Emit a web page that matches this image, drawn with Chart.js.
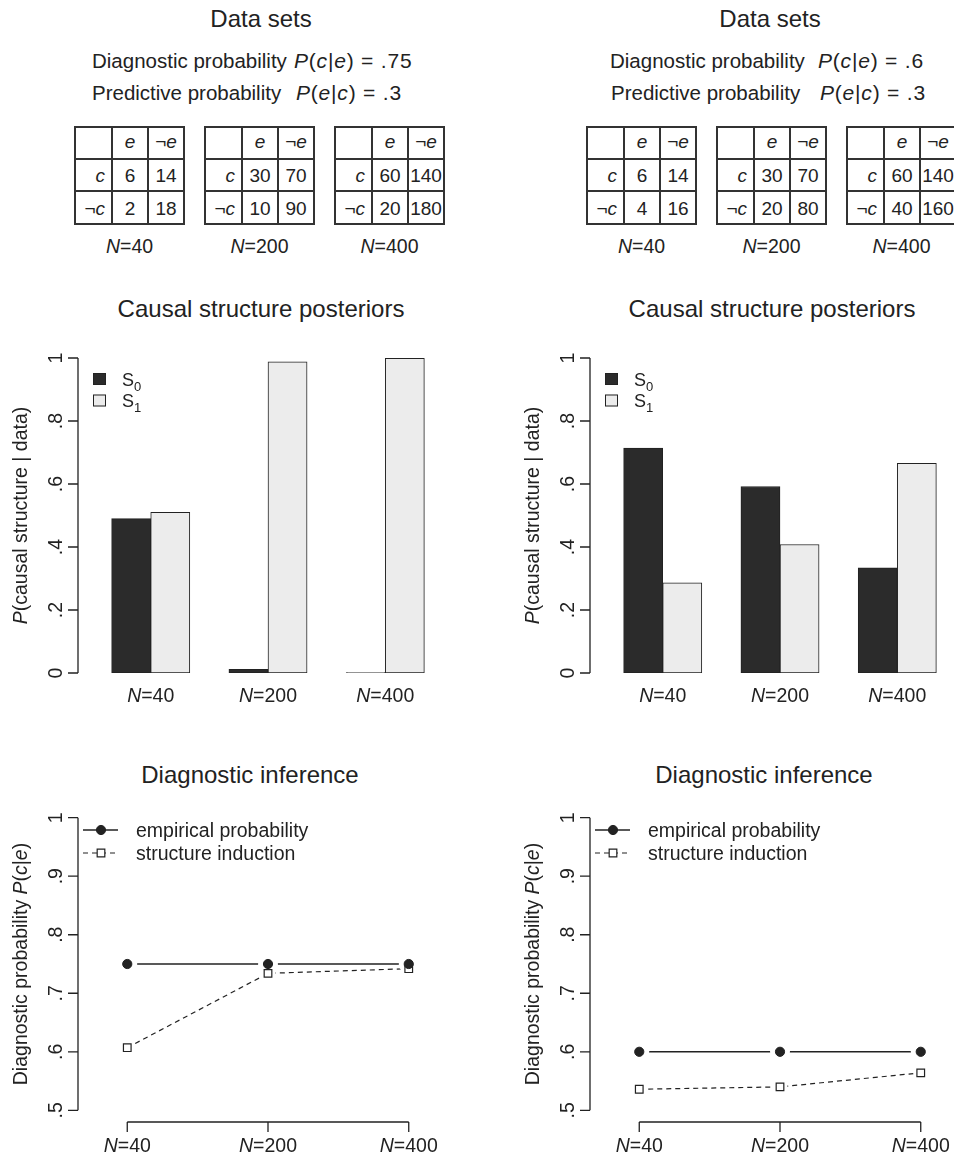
<!DOCTYPE html>
<html>
<head>
<meta charset="utf-8">
<title>Structure induction and diagnostic inference</title>
<script src="https://cdn.jsdelivr.net/npm/chart.js@4.4.1/dist/chart.umd.min.js"></script>
<style>
  html, body { margin: 0; padding: 0; background: #fff; overflow: hidden; }
  #page { position: relative; width: 954px; height: 1156px; overflow: hidden; }
  #page canvas { position: absolute; }
  #labels { position: absolute; left: 0; top: 0; }
  #labels text { font-family: "Liberation Sans", Arial, sans-serif; fill: #222; white-space: pre; }
</style>
</head>
<body>
<div id="page">
  <svg id="labels" width="954" height="1156" xmlns="http://www.w3.org/2000/svg"></svg>
  <canvas id="barLeft" width="480" height="430" style="left:0px;top:290px"></canvas>
  <canvas id="barRight" width="480" height="430" style="left:512px;top:290px"></canvas>
  <canvas id="lineLeft" width="480" height="416" style="left:0px;top:740px"></canvas>
  <canvas id="lineRight" width="480" height="416" style="left:512px;top:740px"></canvas>
</div>
<script>
// ---- data ----
const sampleLabels = ['N=40', 'N=200', 'N=400'];
const structureNames = ['S0', 'S1'];
const inferenceNames = ['empirical probability', 'structure induction'];

// contingency tables [c row, ¬c row] x [e, ¬e] for each sample size
const tablesLeft = [[[6, 14], [2, 18]], [[30, 70], [10, 90]], [[60, 140], [20, 180]]];
const tablesRight = [[[6, 14], [4, 16]], [[30, 70], [20, 80]], [[60, 140], [40, 160]]];
const diagnosticLeft = '.75', predictiveLeft = '.3';
const diagnosticRight = '.6', predictiveRight = '.3';

// posterior probability of each causal structure
const s0Left = [0.49, 0.012, 0.001];
const s1Left = [0.51, 0.988, 0.999];
const s0Right = [0.714, 0.592, 0.334];
const s1Right = [0.286, 0.408, 0.666];

// diagnostic probability P(c|e)
const empiricalLeft = [0.75, 0.75, 0.75];
const inductionLeft = [0.607, 0.734, 0.742];
const empiricalRight = [0.6, 0.6, 0.6];
const inductionRight = [0.536, 0.540, 0.564];

const barTicks = [0, 0.2, 0.4, 0.6, 0.8, 1];
const barTickLabels = ['0', '.2', '.4', '.6', '.8', '1'];
const lineTicks = [0.5, 0.6, 0.7, 0.8, 0.9, 1];
const lineTickLabels = ['.5', '.6', '.7', '.8', '.9', '1'];

// ---- style ----
const INK = '#222';
const DARK = '#2b2b2b';
const LIGHT = '#ececec';
const FONT = '"Liberation Sans", Arial, sans-serif';
const FS = 19.5;
const TICK = 10;
const fontStr = (size, italic) => (italic ? 'italic ' : '') + size + 'px ' + FONT;

// draw a run of text pieces (some italic / subscript) starting or centred at x
function drawParts(ctx, parts, x, y, size, align) {
  const widths = parts.map(p => { ctx.font = fontStr(p.size || size, p.it); return ctx.measureText(p.t).width; });
  const total = widths.reduce((a, b) => a + b, 0);
  let cx = align === 'center' ? x - total / 2 : x;
  parts.forEach((p, i) => {
    ctx.font = fontStr(p.size || size, p.it);
    ctx.fillText(p.t, cx, y + (p.dy || 0));
    cx += widths[i];
  });
}
const subscriptParts = s => [{ t: s[0] }, { t: s.slice(1), size: 13, dy: 5 }];
const sampleParts = s => [{ t: s[0], it: true }, { t: s.slice(1) }];

// R-like axes: axis line only across the tick range, outward ticks, rotated y labels
const rAxes = {
  id: 'rAxes',
  afterDraw(chart, args, o) {
    const { ctx, chartArea: a } = chart;
    const xs = chart.scales.x, ys = chart.scales.y;
    ctx.save();
    ctx.strokeStyle = INK;
    ctx.fillStyle = INK;
    ctx.lineWidth = 1.3;
    ctx.textAlign = 'left';
    ctx.textBaseline = 'alphabetic';

    const yPix = o.yTicks.map(v => ys.getPixelForValue(v));
    ctx.beginPath();
    ctx.moveTo(a.left, yPix[0]);
    ctx.lineTo(a.left, yPix[yPix.length - 1]);
    yPix.forEach(p => { ctx.moveTo(a.left, p); ctx.lineTo(a.left - TICK, p); });
    ctx.stroke();
    yPix.forEach((p, i) => {
      ctx.save();
      ctx.translate(a.left - 16, p);
      ctx.rotate(-Math.PI / 2);
      drawParts(ctx, [{ t: o.yLabels[i] }], 0, 0, FS, 'center');
      ctx.restore();
    });
    ctx.save();
    ctx.translate(a.left - 51, (yPix[0] + yPix[yPix.length - 1]) / 2);
    ctx.rotate(-Math.PI / 2);
    drawParts(ctx, o.yTitle, 0, 0, FS, 'center');
    ctx.restore();

    const xPix = o.xTicks.map(v => xs.getPixelForValue(v));
    if (o.xLine) {
      ctx.beginPath();
      ctx.moveTo(xPix[0], a.bottom);
      ctx.lineTo(xPix[xPix.length - 1], a.bottom);
      xPix.forEach(p => { ctx.moveTo(p, a.bottom); ctx.lineTo(p, a.bottom + TICK); });
      ctx.stroke();
    }
    xPix.forEach((p, i) => drawParts(ctx, sampleParts(o.xLabels[i]), p, a.bottom + o.xLabelDrop, FS, 'center'));

    if (o.legend === 'bar') {
      chart.data.datasets.forEach((ds, i) => {
        const cy = a.top + 21 + i * 21.5;
        ctx.fillStyle = ds.backgroundColor;
        ctx.fillRect(a.left + 15, cy - 6, 13, 12);
        ctx.lineWidth = 1;
        ctx.strokeRect(a.left + 15.5, cy - 5.5, 12, 11);
        ctx.fillStyle = INK;
        drawParts(ctx, subscriptParts(ds.label), a.left + 44, cy + 6.5, 18, 'left');
      });
    } else if (o.legend === 'line') {
      [0, 1].forEach(i => {
        const pt = chart.data.datasets[i];
        const ln = chart.data.datasets[i + 4];
        const cy = a.top + 24 + i * 23;
        ctx.beginPath();
        ctx.setLineDash(ln.borderDash || []);
        ctx.lineWidth = ln.borderWidth;
        ctx.strokeStyle = ln.borderColor;
        ctx.moveTo(a.left + 5, cy);
        ctx.lineTo(a.left + 40, cy);
        ctx.stroke();
        ctx.setLineDash([]);
        ctx.fillStyle = pt.pointBackgroundColor;
        ctx.strokeStyle = pt.pointBorderColor;
        ctx.lineWidth = pt.pointBorderWidth;
        ctx.beginPath();
        if (pt.pointStyle === 'rect') {
          const h = pt.pointRadius * Math.SQRT1_2;
          ctx.rect(a.left + 23 - h, cy - h, 2 * h, 2 * h);
        } else {
          ctx.arc(a.left + 23, cy, pt.pointRadius, 0, Math.PI * 2);
        }
        ctx.fill();
        ctx.stroke();
        ctx.fillStyle = INK;
        drawParts(ctx, [{ t: pt.label }], a.left + 58, cy + 7, FS, 'left');
      });
    }
    ctx.restore();
  }
};

const barTitle = [{ t: 'P', it: true }, { t: '(causal structure | data)' }];
const lineTitle = [{ t: 'Diagnostic probability ' }, { t: 'P', it: true }, { t: '(' }, { t: 'c', it: true }, { t: '|' }, { t: 'e', it: true }, { t: ')' }];

// bars: each sample size is a group of two adjacent unit-wide bars, one unit apart
function makeBarChart(id, s0, s1) {
  const bar = (label, values, offset, fill) => ({
    label,
    data: values.map((v, i) => ({ x: 3 * i + offset, y: v })),
    backgroundColor: fill,
    borderColor: INK,
    borderWidth: 1,
    borderSkipped: false,
    grouped: false,
    barPercentage: 1,
    categoryPercentage: 1
  });
  return new Chart(document.getElementById(id), {
    type: 'bar',
    data: { datasets: [bar(structureNames[0], s0, 0.5, DARK), bar(structureNames[1], s1, 1.5, LIGHT)] },
    options: {
      responsive: false,
      animation: false,
      events: [],
      layout: { padding: { left: 78, right: 22, top: 68, bottom: 47 } },
      scales: {
        x: { type: 'linear', min: -0.32, max: 8.32, display: false, ticks: { stepSize: 1, includeBounds: false } },
        y: { min: 0, max: 1, display: false }
      },
      plugins: {
        legend: { display: false },
        tooltip: { enabled: false },
        rAxes: {
          yTicks: barTicks, yLabels: barTickLabels, yTitle: barTitle,
          xTicks: sampleLabels.map((_, i) => 3 * i + 1), xLabels: sampleLabels,
          xLine: false, xLabelDrop: 29, legend: 'bar'
        }
      }
    },
    plugins: [rAxes]
  });
}

// lines with open gaps around the markers: white halos sit between lines and markers
function makeLineChart(id, emp, ind) {
  const pts = arr => arr.map((v, i) => ({ x: i + 1, y: v }));
  const datasets = [
    { label: inferenceNames[0], data: pts(emp), showLine: false, pointStyle: 'circle', pointRadius: 4.6,
      pointBackgroundColor: INK, pointBorderColor: INK, pointBorderWidth: 1, order: 0 },
    { label: inferenceNames[1], data: pts(ind), showLine: false, pointStyle: 'rect', pointRadius: 5.4,
      pointBackgroundColor: '#fff', pointBorderColor: INK, pointBorderWidth: 1.2, order: 0 },
    { data: pts(emp), showLine: false, pointStyle: 'circle', pointRadius: 10,
      pointBackgroundColor: '#fff', pointBorderWidth: 0, order: 1 },
    { data: pts(ind), showLine: false, pointStyle: 'circle', pointRadius: 7.5,
      pointBackgroundColor: '#fff', pointBorderWidth: 0, order: 1 },
    { data: pts(emp), showLine: true, pointRadius: 0, borderColor: INK, borderWidth: 1.4, order: 2 },
    { data: pts(ind), showLine: true, pointRadius: 0, borderColor: INK, borderWidth: 1.2, borderDash: [5, 4], order: 2 }
  ];
  return new Chart(document.getElementById(id), {
    type: 'line',
    data: { datasets },
    options: {
      responsive: false,
      animation: false,
      events: [],
      layout: { padding: { left: 78, right: 22, top: 66, bottom: 34 } },
      scales: {
        x: { type: 'linear', min: 0.65, max: 3.35, display: false },
        y: { min: 0.48, max: 1.02, display: false }
      },
      plugins: {
        legend: { display: false },
        tooltip: { enabled: false },
        rAxes: {
          yTicks: lineTicks, yLabels: lineTickLabels, yTitle: lineTitle,
          xTicks: [1, 2, 3], xLabels: sampleLabels,
          xLine: true, xLabelDrop: 30, legend: 'line'
        }
      }
    },
    plugins: [rAxes]
  });
}

makeBarChart('barLeft', s0Left, s1Left);
makeBarChart('barRight', s0Right, s1Right);
makeLineChart('lineLeft', empiricalLeft, inductionLeft);
makeLineChart('lineRight', empiricalRight, inductionRight);

// ---- panel titles, data-set descriptions and contingency tables ----
const svgNS = 'http://www.w3.org/2000/svg';
const svg = document.getElementById('labels');
function svgText(x, y, parts, size, anchor, spacing) {
  const t = document.createElementNS(svgNS, 'text');
  t.setAttribute('x', x);
  t.setAttribute('y', y);
  t.setAttribute('font-size', size);
  if (anchor) t.setAttribute('text-anchor', anchor);
  if (spacing) t.setAttribute('letter-spacing', spacing);
  parts.forEach(p => {
    const s = document.createElementNS(svgNS, 'tspan');
    if (p.it) s.setAttribute('font-style', 'italic');
    s.textContent = p.t;
    t.appendChild(s);
  });
  svg.appendChild(t);
}
function svgLine(x1, y1, x2, y2) {
  const l = document.createElementNS(svgNS, 'line');
  l.setAttribute('x1', x1); l.setAttribute('y1', y1);
  l.setAttribute('x2', x2); l.setAttribute('y2', y2);
  l.setAttribute('stroke', '#333');
  l.setAttribute('stroke-width', 2);
  l.setAttribute('stroke-linecap', 'square');
  svg.appendChild(l);
}

const colEdges = [0, 37, 73, 109];
const rowEdges = [127, 159, 191, 224];
function drawTable(x0, cells, label) {
  colEdges.forEach(c => svgLine(x0 + c, rowEdges[0], x0 + c, rowEdges[3]));
  rowEdges.forEach(r => svgLine(x0, r, x0 + colEdges[3], r));
  const cx2 = x0 + 55, cx3 = x0 + 91;
  svgText(cx2, 148, [{ t: 'e', it: true }], 19, 'middle');
  svgText(cx3, 148, [{ t: '¬' }, { t: 'e', it: true }], 19, 'middle');
  svgText(x0 + 30, 182, [{ t: 'c', it: true }], 19, 'end');
  svgText(x0 + 30, 214.5, [{ t: '¬' }, { t: 'c', it: true }], 19, 'end');
  svgText(cx2, 182, [{ t: String(cells[0][0]) }], 19, 'middle');
  svgText(cx3, 182, [{ t: String(cells[0][1]) }], 19, 'middle');
  svgText(cx2, 214.5, [{ t: String(cells[1][0]) }], 19, 'middle');
  svgText(cx3, 214.5, [{ t: String(cells[1][1]) }], 19, 'middle');
  svgText(x0 + 54.5, 253, sampleParts(label), 19.5, 'middle');
}

function drawDataPanel(titleX, diag, pred, textX, formulaX) {
  svgText(titleX, 27, [{ t: 'Data sets' }], 24, 'middle');
  svgText(textX[0], 68, [{ t: 'Diagnostic probability' }], 20.5);
  svgText(formulaX[0], 68, [{ t: 'P', it: true }, { t: '(' }, { t: 'c', it: true }, { t: '|' }, { t: 'e', it: true }, { t: ') = ' + diag }], 21, null, 0.8);
  svgText(textX[1], 100, [{ t: 'Predictive probability' }], 20.5);
  svgText(formulaX[1], 100, [{ t: 'P', it: true }, { t: '(' }, { t: 'e', it: true }, { t: '|' }, { t: 'c', it: true }, { t: ') = ' + pred }], 21, null, 0.8);
}

drawDataPanel(261, diagnosticLeft, predictiveLeft, [92, 92], [294, 296]);
drawDataPanel(770, diagnosticRight, predictiveRight, [610, 611], [818, 820]);
tablesLeft.forEach((t, i) => drawTable(75 + 130 * i, t, sampleLabels[i]));
tablesRight.forEach((t, i) => drawTable(587 + 130 * i, t, sampleLabels[i]));

svgText(261, 317, [{ t: 'Causal structure posteriors' }], 24, 'middle');
svgText(772, 317, [{ t: 'Causal structure posteriors' }], 24, 'middle');
svgText(250, 783, [{ t: 'Diagnostic inference' }], 24, 'middle');
svgText(764, 783, [{ t: 'Diagnostic inference' }], 24, 'middle');
</script>
</body>
</html>
